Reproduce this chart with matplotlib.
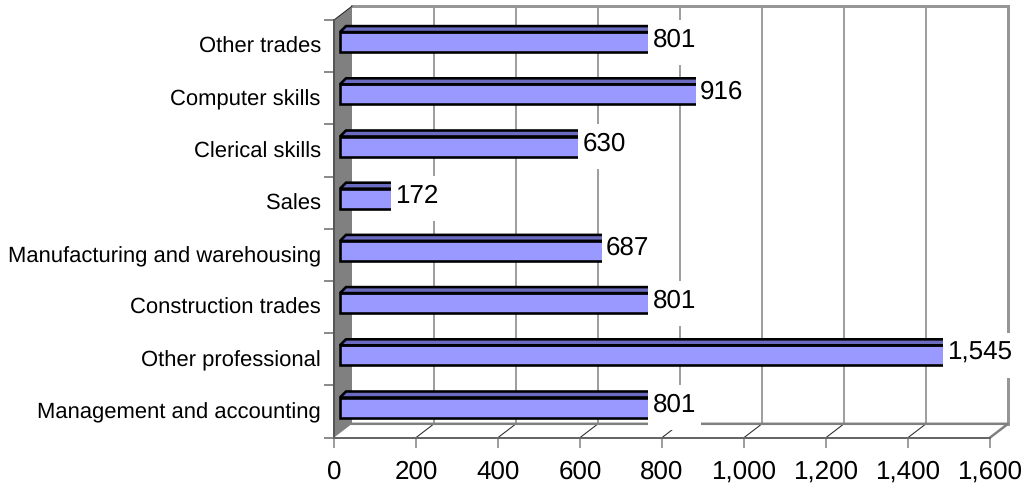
import matplotlib
matplotlib.use("Agg")
import matplotlib.pyplot as plt
from matplotlib.patches import Polygon, Rectangle

plt.rcParams['font.family'] = ['Liberation Sans', 'DejaVu Sans']
plt.rcParams['text.hinting'] = 'none'
plt.rcParams['text.hinting_factor'] = 1

categories = ["Management and accounting", "Other professional", "Construction trades",
              "Manufacturing and warehousing", "Sales", "Clerical skills",
              "Computer skills", "Other trades"]
values = [801, 1545, 801, 687, 172, 630, 916, 801]
xticks = [0, 200, 400, 600, 800, 1000, 1200, 1400, 1600]
xticklabels = ["0", "200", "400", "600", "800", "1,000", "1,200", "1,400", "1,600"]

W, H = 1026, 484
L, R, T, B = 334, 990, 20, 437.6
fig = plt.figure(figsize=(W/100, H/100), dpi=100)
ax = fig.add_axes([L/W, 1-B/H, (R-L)/W, (B-T)/H])
ax.set_xlim(0, 1600)
ax.set_ylim(-0.5, 7.5)
ux = 1600/(R-L)   # data units per pixel
uy = 8/(B-T)
px = 0.72         # points per pixel

DX, DY = 18*ux, 13.8*uy   # depth of the 3-D box
y0, y1 = -0.5, 7.5
xe = 1600
grey = '#808080'
lg = '#969696'

# walls
ax.add_patch(Polygon([[0, y0], [DX, y0+DY], [DX, y1+DY], [0, y1]], closed=True,
                     fc=grey, ec='none', zorder=1, clip_on=False))
# back wall gridlines and outline
for v in xticks[1:-1]:
    ax.plot([v+DX, v+DX], [y0+DY, y1+DY], color=grey, lw=1.5*px, zorder=2, clip_on=False)
    ax.plot([v, v+DX], [y0, y0+DY], color='#222222', lw=1*px, zorder=2, clip_on=False)
ax.plot([DX, xe+DX, xe+DX], [y1+DY, y1+DY, y0+DY], color=lg, lw=3*px, zorder=2,
        clip_on=False, solid_joinstyle='miter')
ax.plot([DX, xe+DX, xe], [y0+DY, y0+DY, y0], color=grey, lw=2.5*px, zorder=2, clip_on=False)
ax.plot([0, DX], [y1, y1+DY], color='#222222', lw=1*px, zorder=2, clip_on=False)

# bars
bh = 20*uy
ox, oy = 6*ux, 4*uy
tx, ty = 6*ux, 6*uy
ys = list(range(len(values)))
ax.barh([y+oy for y in ys], values, height=bh, left=ox, color='#9999FF', edgecolor='black',
        linewidth=2.6*px, zorder=3, clip_on=False)
for y, v in zip(ys, values):
    top = y + oy + bh/2
    ax.add_patch(Polygon([[ox, top], [ox+tx, top+ty], [ox+v+tx, top+ty], [ox+v, top]],
                         closed=True, fc='#6B6BC0', ec='black', lw=2.6*px, zorder=3, clip_on=False))

# data labels with white backgrounds
fs_val = 18.6
for y, v, in zip(ys, values):
    s = f"{v:,}"
    w = 69 if v >= 1000 else 53
    left = min(ox + v - 20*ux, (1012 - L - w)*ux)
    ax.add_patch(Rectangle((left, y+oy-22.5*uy), w*ux, 45*uy, fc='white', ec='none',
                           zorder=4, clip_on=False))
    ax.text(left + 4.5*ux, y+oy+2.5*uy, s, fontsize=fs_val, va='center', ha='left', color='black',
            zorder=5, clip_on=False)

# axes
for s in ['top', 'right']:
    ax.spines[s].set_visible(False)
ax.patch.set_alpha(0)
ax.spines['left'].set_color('#555555')
ax.spines['left'].set_linewidth(2*px)
ax.spines['bottom'].set_color('#666666')
ax.spines['bottom'].set_linewidth(2*px)
ax.spines['left'].set_zorder(2.5)
ax.spines['bottom'].set_zorder(2.5)
ax.set_xticks(xticks)
ax.set_xticklabels(xticklabels, fontsize=18.6)
ax.tick_params(axis='x', length=9.5*px, width=1.5*px, color=grey, pad=9)
ax.set_yticks([i-0.5 for i in range(9)])
ax.set_yticklabels([""]*9)
ax.set_yticks([y + 0.8*uy for y in ys], minor=True)
ax.set_yticklabels(categories, minor=True, fontsize=15.6)
ax.tick_params(axis='y', which='major', length=10*px, width=1.5*px, color='#666666')
ax.tick_params(axis='y', which='minor', length=0, pad=9.5)

fig.savefig("out.png", dpi=100, facecolor='white')
